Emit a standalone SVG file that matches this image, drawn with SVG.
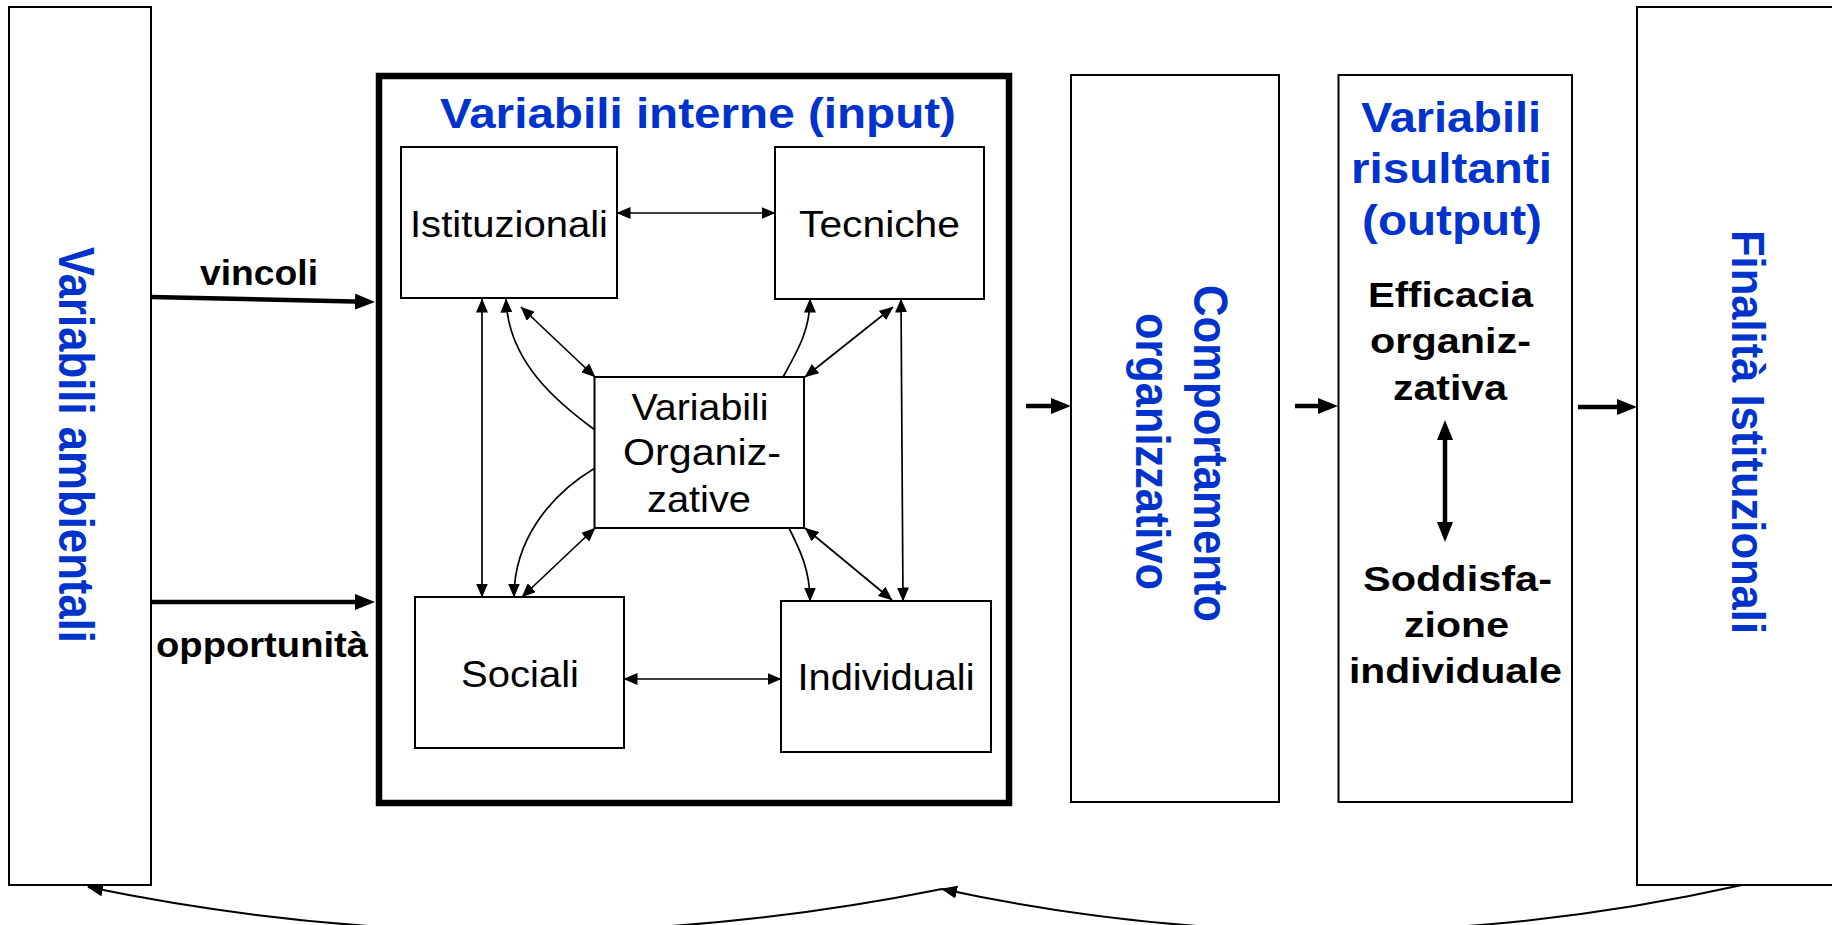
<svg xmlns="http://www.w3.org/2000/svg" width="1832" height="925" viewBox="0 0 1832 925">
<style>
.box{fill:#fff;stroke:#000;stroke-width:2}
.big{fill:#fff;stroke:#000;stroke-width:6.5}
.thin{fill:none;stroke:#000;stroke-width:1.7}
.thick{fill:none;stroke:#000;stroke-width:4.5}
.curve{fill:none;stroke:#000;stroke-width:2}
text{font-family:"Liberation Sans",Arial,Helvetica,sans-serif;fill:#000}
.b{font-weight:bold}
.blue{fill:#0033cc}
.t36{font-size:36px}
.t35{font-size:35px}
.t42{font-size:42px}
</style>
<defs>
<marker id="at" markerUnits="userSpaceOnUse" viewBox="0 0 14 12" markerWidth="14" markerHeight="12" refX="13.5" refY="6" orient="auto-start-reverse"><path d="M0,0 L14,6 L0,12 z" fill="#000"/></marker>
<marker id="aT" markerUnits="userSpaceOnUse" viewBox="0 0 20 16" markerWidth="20" markerHeight="16" refX="10" refY="8" orient="auto-start-reverse"><path d="M0,0 L20,8 L0,16 z" fill="#000"/></marker>
<marker id="ac" markerUnits="userSpaceOnUse" viewBox="0 0 16 13" markerWidth="16" markerHeight="13" refX="15" refY="6.5" orient="auto"><path d="M0,0 L16,6.5 L0,13 z" fill="#000"/></marker>
</defs>

<g id="ambientali">
<rect class="box" x="9" y="7" width="142" height="878"/>
<text class="b blue" font-size="50" text-anchor="middle" textLength="396" lengthAdjust="spacingAndGlyphs" transform="translate(59,445) rotate(90)">Variabili ambientali</text>
</g>

<g id="interne">
<rect class="big" x="379" y="76" width="630" height="727"/>
<text class="b blue t42" x="698" y="128" text-anchor="middle" textLength="516" lengthAdjust="spacingAndGlyphs">Variabili interne (input)</text>
</g>

<g id="istituzionali">
<rect class="box" x="401" y="147" width="216" height="151"/>
<text class="t36" x="509" y="237" text-anchor="middle" textLength="198" lengthAdjust="spacingAndGlyphs">Istituzionali</text>
</g>
<g id="tecniche">
<rect class="box" x="775" y="147" width="209" height="152"/>
<text class="t36" x="879.5" y="237" text-anchor="middle" textLength="161" lengthAdjust="spacingAndGlyphs">Tecniche</text>
</g>
<g id="organizzative">
<rect class="box" x="594.5" y="377" width="209.5" height="151"/>
<text class="t36" x="700" y="420" text-anchor="middle" textLength="137" lengthAdjust="spacingAndGlyphs">Variabili</text>
<text class="t36" x="702" y="465" text-anchor="middle" textLength="158" lengthAdjust="spacingAndGlyphs">Organiz-</text>
<text class="t36" x="699" y="512" text-anchor="middle" textLength="104" lengthAdjust="spacingAndGlyphs">zative</text>
</g>
<g id="sociali">
<rect class="box" x="415" y="597" width="209" height="151"/>
<text class="t36" x="520" y="687" text-anchor="middle" textLength="118" lengthAdjust="spacingAndGlyphs">Sociali</text>
</g>
<g id="individuali">
<rect class="box" x="781" y="601" width="210" height="151"/>
<text class="t36" x="886" y="690" text-anchor="middle" textLength="177" lengthAdjust="spacingAndGlyphs">Individuali</text>
</g>

<g id="comportamento">
<rect class="box" x="1071" y="75" width="208" height="727"/>
<text class="b blue" font-size="48" text-anchor="middle" textLength="337" lengthAdjust="spacingAndGlyphs" transform="translate(1194,453.5) rotate(90)">Comportamento</text>
<text class="b blue" font-size="48" text-anchor="middle" textLength="277" lengthAdjust="spacingAndGlyphs" transform="translate(1136,451.5) rotate(90)">organizzativo</text>
</g>

<g id="risultanti">
<rect class="box" x="1338.5" y="75" width="233.5" height="727"/>
<text class="b blue t42" x="1451" y="132" text-anchor="middle" textLength="180" lengthAdjust="spacingAndGlyphs">Variabili</text>
<text class="b blue t42" x="1451.5" y="183" text-anchor="middle" textLength="201" lengthAdjust="spacingAndGlyphs">risultanti</text>
<text class="b blue t42" x="1452" y="235" text-anchor="middle" textLength="180" lengthAdjust="spacingAndGlyphs">(output)</text>
<text class="b t35" x="1450.5" y="307" text-anchor="middle" textLength="165" lengthAdjust="spacingAndGlyphs">Efficacia</text>
<text class="b t35" x="1450.5" y="353" text-anchor="middle" textLength="161" lengthAdjust="spacingAndGlyphs">organiz-</text>
<text class="b t35" x="1450" y="400" text-anchor="middle" textLength="114" lengthAdjust="spacingAndGlyphs">zativa</text>
<text class="b t35" x="1457.5" y="591" text-anchor="middle" textLength="189" lengthAdjust="spacingAndGlyphs">Soddisfa-</text>
<text class="b t35" x="1456.5" y="637" text-anchor="middle" textLength="105" lengthAdjust="spacingAndGlyphs">zione</text>
<text class="b t35" x="1455.5" y="683" text-anchor="middle" textLength="213" lengthAdjust="spacingAndGlyphs">individuale</text>
</g>

<g id="finalita">
<rect class="box" x="1637" y="7" width="215" height="878"/>
<text class="b blue" font-size="47" text-anchor="middle" textLength="404" lengthAdjust="spacingAndGlyphs" transform="translate(1732,432) rotate(90)">Finalità Istituzionali</text>
</g>

<g id="connectors">
<path class="thick" d="M151,297 L365,301.8" marker-end="url(#aT)"/>
<text class="b t35" x="259" y="285" text-anchor="middle" textLength="118" lengthAdjust="spacingAndGlyphs">vincoli</text>
<path class="thick" d="M151,602 L365,602" marker-end="url(#aT)"/>
<text class="b t35" x="262" y="657" text-anchor="middle" textLength="212" lengthAdjust="spacingAndGlyphs">opportunità</text>
<path class="thick" d="M1026,406 L1061,406" marker-end="url(#aT)"/>
<path class="thick" d="M1295,406 L1328,406" marker-end="url(#aT)"/>
<path class="thick" d="M1578,407 L1627,407" marker-end="url(#aT)"/>
<path class="thick" d="M1445,430 L1445,532" marker-start="url(#aT)" marker-end="url(#aT)"/>

<path class="thin" d="M617,213 L775,213" marker-start="url(#at)" marker-end="url(#at)"/>
<path class="thin" d="M624,679 L781,679" marker-start="url(#at)" marker-end="url(#at)"/>
<path class="thin" d="M482,299 L482,597" marker-start="url(#at)" marker-end="url(#at)"/>
<path class="thin" d="M901,299 L903,601" marker-start="url(#at)" marker-end="url(#at)"/>
<path class="thin" d="M521,307 L595,377" marker-start="url(#at)" marker-end="url(#at)"/>
<path class="thin" d="M893,307 L805,377" marker-start="url(#at)" marker-end="url(#at)"/>
<path class="thin" d="M522,597 L595,528" marker-start="url(#at)" marker-end="url(#at)"/>
<path class="thin" d="M892,600 L805,528" marker-start="url(#at)" marker-end="url(#at)"/>

<path class="thin" d="M595,430 C558,403 508,362 506,299" marker-end="url(#at)"/>
<path class="thin" d="M595,468 C550,495 514,540 514,597" marker-end="url(#at)"/>
<path class="thin" d="M783,377 C798,350 810,330 810,299" marker-end="url(#at)"/>
<path class="thin" d="M789,528 C800,550 810,570 810,601" marker-end="url(#at)"/>

<path class="curve" d="M1742,885 Q1340,975 942,889" marker-end="url(#ac)"/>
<path class="curve" d="M942,889 Q515,975 88,887" marker-end="url(#ac)"/>
</g>
</svg>
